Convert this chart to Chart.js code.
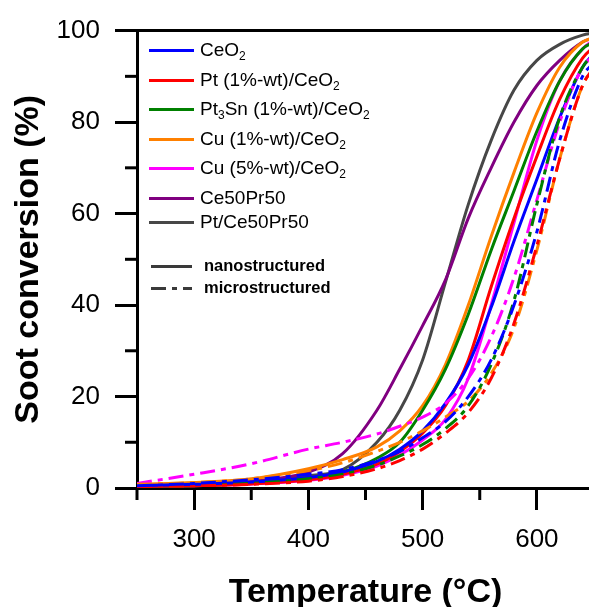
<!DOCTYPE html>
<html>
<head>
<meta charset="utf-8">
<script src="https://cdn.jsdelivr.net/npm/chart.js@4/dist/chart.umd.min.js"></script>
<style>
  html, body { margin: 0; padding: 0; background: #fff; overflow: hidden; }
  #myChart { display: block; }
</style>
</head>
<body>
<canvas id="myChart" width="608" height="607"></canvas>
<script>
// temperaturas (°C) donde se leyeron los puntos
const temps = [250, 300, 350, 400, 430, 460, 480, 500, 520, 540, 560, 580, 600, 620, 640, 650];

// nanoestructurados (linea continua)
const ceo2Nano    = [0.5, 0.8, 1.3, 2.3, 3.5, 5.8, 8.5, 12.5, 18.5, 27, 39.5, 54, 67.5, 81, 92, 95];
const ptNano      = [0.3, 0.5, 0.9, 1.8, 3, 5.2, 8, 12, 18, 28, 44, 59, 72.5, 85, 94, 96.5];
const pt3snNano   = [0.3, 0.5, 1, 2, 3.5, 6.5, 10, 17, 26, 38, 52, 65, 78, 89, 96, 97.5];
const cu1Nano     = [0.8, 1.2, 2, 4.2, 6.2, 9, 12.5, 18, 27, 40, 55, 69, 82, 92, 97.5, 98.5];
const cu5Nano     = [0.3, 0.5, 0.9, 1.7, 2.8, 4.8, 7.2, 10.5, 15, 24, 40, 58, 76, 89, 96, 98];
const cePrNano    = [0.5, 1, 1.5, 3.5, 7.5, 17, 26, 35.5, 45.5, 59, 70, 80, 88, 93.5, 97.5, 98.5];
const ptCePrNano  = [0.5, 1, 1.5, 2.7, 4, 10, 17, 28, 45, 62, 76, 87, 93.5, 97, 99, 99.5];

// microestructurados (linea punto-raya)
const ceo2Micro   = [0.5, 1, 1.8, 3, 4, 6, 8, 11, 14.5, 20, 28, 40, 56, 76, 90, 93];
const ptMicro     = [0.3, 0.5, 0.8, 1.5, 2.5, 4.2, 6, 8.5, 12, 16.5, 24, 36, 53, 72, 88, 92];
const pt3snMicro  = [0.3, 0.6, 1, 2, 3, 5, 7, 9.5, 13, 18, 27, 41, 62, 81, 92, 95];
const cu1Micro    = [0.8, 1.2, 2, 3.8, 5.5, 8, 10, 12.5, 15.5, 19, 25, 35, 52, 72, 88, 92];
const cu5Micro    = [1, 3, 5.3, 8.5, 10, 11.8, 13.5, 15.5, 18.5, 24, 33, 46, 63, 80, 92, 94.5];

const materialNames = ['CeO_2', 'Pt (1%-wt)/CeO_2', 'Pt_3Sn (1%-wt)/CeO_2', 'Cu (1%-wt)/CeO_2', 'Cu (5%-wt)/CeO_2', 'Ce50Pr50', 'Pt/Ce50Pr50'];
const materialColors = ['#0000ff', '#ff0000', '#008000', '#ff8000', '#ff00ff', '#800080', '#474747'];
const nanoSeries = [ceo2Nano, ptNano, pt3snNano, cu1Nano, cu5Nano, cePrNano, ptCePrNano];
const microSeries = [ceo2Micro, ptMicro, pt3snMicro, cu1Micro, cu5Micro, null, null];
const typeNames = ['nanostructured', 'microstructured'];

const xTicksMajor = [300, 400, 500, 600];
const yTicksMajor = [0, 20, 40, 60, 80, 100];

const dashDot = [15, 6, 5, 6];
const FONT = "'Liberation Sans', Arial, sans-serif";

const toPoints = (vals) => vals.map((v, i) => ({ x: temps[i], y: v }));

const datasets = [];
// primero los micro para que las continuas queden encima
microSeries.forEach((vals, i) => {
    if (!vals) return;
    datasets.push({
        label: materialNames[i] + ' micro',
        data: toPoints(vals),
        borderColor: materialColors[i],
        borderWidth: 3,
        borderDash: dashDot,
        pointRadius: 0,
        cubicInterpolationMode: 'monotone',
        fill: false
    });
});
nanoSeries.forEach((vals, i) => {
    datasets.push({
        label: materialNames[i],
        data: toPoints(vals),
        borderColor: materialColors[i],
        borderWidth: 3,
        pointRadius: 0,
        cubicInterpolationMode: 'monotone',
        fill: false
    });
});

// dibuja texto con subindices marcados con "_"
function drawRich(ctx, text, x, y, size) {
    let cx = x;
    for (let k = 0; k < text.length; k++) {
        let ch = text[k];
        if (ch === '_' && k + 1 < text.length) {
            const sub = text[k + 1];
            ctx.font = Math.round(size * 0.65) + 'px ' + FONT;
            ctx.fillText(sub, cx, y + size * 0.33);
            cx += ctx.measureText(sub).width;
            k++;
        } else {
            ctx.font = size + 'px ' + FONT;
            ctx.fillText(ch, cx, y);
            cx += ctx.measureText(ch).width;
        }
    }
}

// ticks menores, marco superior y leyenda
const extras = {
    id: 'extras',
    afterDraw(chart) {
        const ctx = chart.ctx;
        const area = chart.chartArea;
        const xs = chart.scales.x;
        const ys = chart.scales.y;
        ctx.save();
        ctx.strokeStyle = '#000';
        ctx.lineWidth = 3;
        ctx.lineCap = 'butt';
        // ticks menores
        xs.ticks.forEach(t => {
            if (xTicksMajor.includes(t.value)) return;
            const px = xs.getPixelForValue(t.value);
            ctx.beginPath();
            ctx.moveTo(px, area.bottom);
            ctx.lineTo(px, area.bottom + 12);
            ctx.stroke();
        });
        ys.ticks.forEach(t => {
            if (yTicksMajor.includes(t.value)) return;
            const py = ys.getPixelForValue(t.value);
            ctx.beginPath();
            ctx.moveTo(area.left, py);
            ctx.lineTo(area.left - 12, py);
            ctx.stroke();
        });
        // marco
        ctx.beginPath();
        ctx.moveTo(area.left - 1.5, area.top);
        ctx.lineTo(area.right, area.top);
        ctx.lineTo(area.right, area.bottom);
        ctx.stroke();

        // leyenda de materiales
        const rows = [20, 50, 79, 109, 138, 168, 192];
        ctx.textBaseline = 'middle';
        ctx.textAlign = 'left';
        materialNames.forEach((name, i) => {
            const y = area.top + rows[i];
            ctx.strokeStyle = materialColors[i];
            ctx.lineWidth = 3;
            ctx.beginPath();
            ctx.moveTo(area.left + 12, y);
            ctx.lineTo(area.left + 57, y);
            ctx.stroke();
            ctx.fillStyle = '#000';
            drawRich(ctx, name, area.left + 63, y, 19);
        });

        // leyenda de tipo
        const typeRows = [236, 258];
        typeNames.forEach((name, i) => {
            const y = area.top + typeRows[i];
            ctx.strokeStyle = '#3a3a3a';
            ctx.lineWidth = 3;
            ctx.setLineDash(i === 0 ? [] : dashDot);
            ctx.beginPath();
            ctx.moveTo(area.left + 14, y);
            ctx.lineTo(area.left + 55, y);
            ctx.stroke();
            ctx.setLineDash([]);
            ctx.fillStyle = '#000';
            ctx.font = 'bold 16.5px ' + FONT;
            ctx.fillText(name, area.left + 67, y);
        });
        ctx.restore();
    }
};

const ctx = document.getElementById('myChart').getContext('2d');
const myChart = new Chart(ctx, {
    type: 'line',
    data: { datasets: datasets },
    options: {
        responsive: false,
        animation: false,
        devicePixelRatio: 1,
        layout: { padding: { top: 29, right: 0, left: 0, bottom: 0 } },
        plugins: {
            legend: { display: false },
            tooltip: { enabled: false }
        },
        scales: {
            x: {
                type: 'linear',
                min: 250,
                max: 650,
                afterFit: (s) => { s.height = 119; },
                ticks: {
                    stepSize: 50,
                    includeBounds: false,
                    autoSkip: false,
                    maxRotation: 0,
                    padding: 14,
                    color: '#000',
                    font: { family: FONT, size: 26 },
                    callback: (v) => xTicksMajor.includes(v) ? String(v) : ''
                },
                grid: {
                    drawOnChartArea: false,
                    drawTicks: true,
                    tickLength: 22,
                    tickWidth: 3,
                    tickColor: (c) => (c.tick && xTicksMajor.includes(c.tick.value)) ? '#000' : 'rgba(0,0,0,0)'
                },
                border: { display: true, color: '#000', width: 3 },
                title: {
                    display: true,
                    text: 'Temperature (°C)',
                    color: '#000',
                    font: { family: FONT, size: 34, weight: 'bold', lineHeight: 0.8 },
                    padding: { top: 0, bottom: 1 }
                }
            },
            y: {
                min: 0,
                max: 100,
                afterFit: (s) => { s.width = 137; },
                ticks: {
                    stepSize: 10,
                    autoSkip: false,
                    padding: 15,
                    color: '#000',
                    font: { family: FONT, size: 26 },
                    callback: (v) => yTicksMajor.includes(v) ? String(v) : ''
                },
                grid: {
                    drawOnChartArea: false,
                    drawTicks: true,
                    tickLength: 22,
                    tickWidth: 3,
                    tickColor: (c) => (c.tick && yTicksMajor.includes(c.tick.value)) ? '#000' : 'rgba(0,0,0,0)'
                },
                border: { display: true, color: '#000', width: 3 },
                title: {
                    display: true,
                    text: 'Soot conversion (%)',
                    color: '#000',
                    font: { family: FONT, size: 34, weight: 'bold', lineHeight: 1.2 },
                    padding: { top: 8, bottom: 0 }
                }
            }
        }
    },
    plugins: [extras]
});
</script>
</body>
</html>
